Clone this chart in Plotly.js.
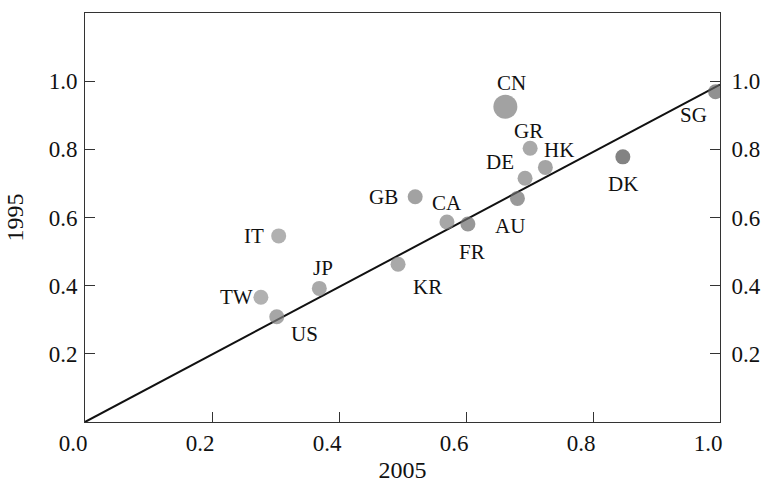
<!DOCTYPE html>
<html>
<head>
<meta charset="utf-8">
<script src="https://cdn.plot.ly/plotly-3.0.1.min.js"></script>
<style>html,body{margin:0;padding:0;background:#fff;}#chart{width:765px;height:485px;}</style>
</head>
<body>
<div id="chart"></div>
<script>
// ---- data ----
const countries = ["CN","GR","HK","DE","AU","GB","CA","FR","IT","JP","TW","US","KR","DK","SG"];
const share2005 = [0.662,0.701,0.725,0.693,0.681,0.520,0.570,0.603,0.305,0.369,0.277,0.302,0.493,0.847,0.993];
const share1995 = [0.925,0.803,0.747,0.715,0.656,0.661,0.587,0.581,0.546,0.392,0.366,0.309,0.463,0.778,0.969];
const fitX = [0, 1];
const fitY = [0, 0.99];
const xTicks = [0, 0.2, 0.4, 0.6, 0.8, 1.0];
const xTickText = ["0.0","0.2","0.4","0.6","0.8","1.0"];
const yTicks = [0.2, 0.4, 0.6, 0.8, 1.0];
const yTickText = ["0.2","0.4","0.6","0.8","1.0"];

// ---- styling (not data) ----
const markerSizes = [24,15,15,15,15,15,15,15,15,15,15,15,15,15,15];
const markerColors = ["#7a7a7a","#858585","#7e7e7e","#808080","#6e6e6e","#7a7a7a","#828282","#6c6c6c","#8e8e8e","#848484","#909090","#808080","#848484","#4e4e4e","#626262"];
const labelShift = [[6,24],[-2,17],[14,17],[-25,16],[-7,-28],[-32,0],[0,19],[4,-28],[-25,0],[4,20],[-24,0],[28,-17],[29,-23],[0,-27],[-22,-23]];

const serif = "'Liberation Serif', 'Times New Roman', serif";

const traces = [
  {x: fitX, y: fitY, mode: "lines", type: "scatter", line: {color: "#111", width: 2}, hoverinfo: "skip", showlegend: false},
  {x: share2005, y: share1995, mode: "markers", type: "scatter", text: countries,
   marker: {size: markerSizes, color: markerColors, line: {width: 0}}, showlegend: false},
  {x: fitX, y: fitY, yaxis: "y2", mode: "lines", type: "scatter", line: {width: 0}, opacity: 0, hoverinfo: "skip", showlegend: false}
];

const annotations = countries.map((c, i) => ({
  x: share2005[i], y: share1995[i], text: c, showarrow: false,
  xshift: labelShift[i][0], yshift: labelShift[i][1],
  font: {family: serif, size: 21, color: "#111"}
}));

const axisCommon = {
  showgrid: false, zeroline: false, showline: true, linecolor: "#333", linewidth: 1,
  ticks: "inside", ticklen: 10, tickcolor: "#333", tickwidth: 1,
  tickfont: {family: serif, size: 23, color: "#111"}
};

const layout = {
  width: 765, height: 485,
  margin: {l: 85, r: 45, t: 13, b: 63},
  paper_bgcolor: "#fff", plot_bgcolor: "#fff",
  showlegend: false,
  xaxis: Object.assign({}, axisCommon, {
    range: [0, 1], tickvals: xTicks, ticktext: xTickText, mirror: true,
    ticklabelshift: -12, ticklabelstandoff: 0,
    title: {text: "2005", font: {family: serif, size: 24, color: "#111"}, standoff: 6}
  }),
  yaxis: Object.assign({}, axisCommon, {
    range: [0, 1.2], tickvals: yTicks, ticktext: yTickText, ticklabelstandoff: 2,
    title: {text: "1995", font: {family: serif, size: 24, color: "#111"}, standoff: 18}
  }),
  yaxis2: Object.assign({}, axisCommon, {
    range: [0, 1.2], tickvals: yTicks, ticktext: yTickText,
    overlaying: "y", side: "right", ticklabelstandoff: 6
  }),
  annotations: annotations
};

Plotly.newPlot("chart", traces, layout, {displayModeBar: false, staticPlot: true});
</script>
</body>
</html>
